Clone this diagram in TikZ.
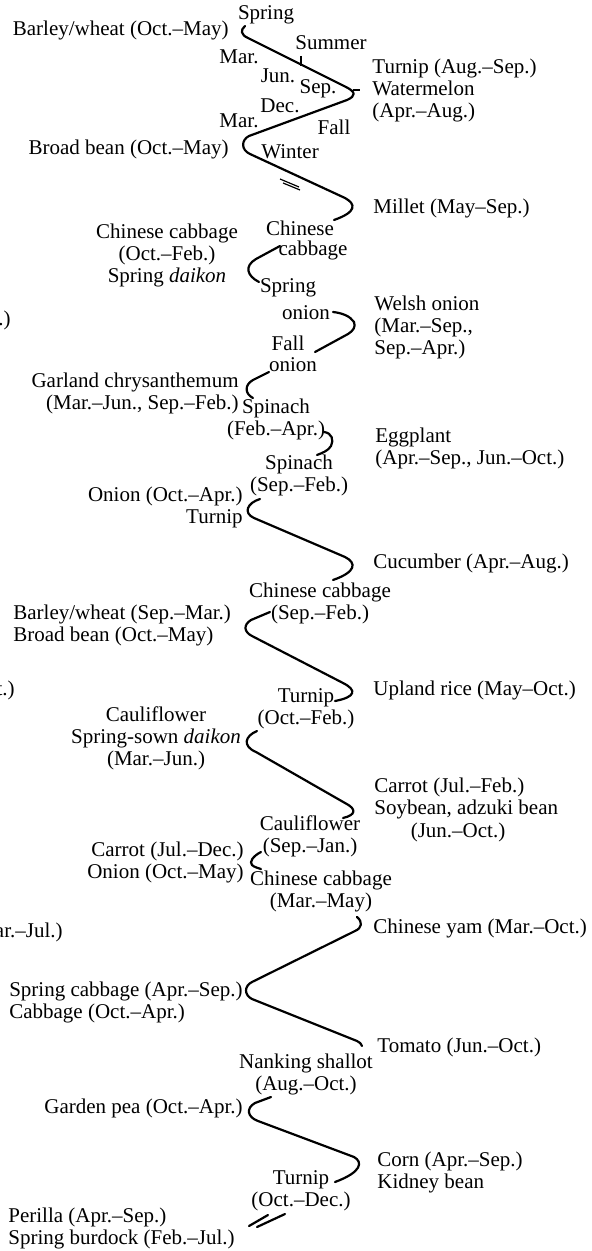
\documentclass[tikz,border=0pt]{standalone}
\usepackage{fontspec}
\setmainfont{Liberation Serif}
\newcommand\cropfont{\fontsize{10.5}{11}\selectfont}

\begin{document}
\begin{tikzpicture}[x=0.5pt,y=-0.5pt,
  lbl/.style={inner sep=0pt, font=\cropfont, align=center},
  lft/.style={lbl, anchor=east, align=right},
  rgt/.style={lbl, anchor=west, align=left},
  cropline/.style={line width=1.1pt, line cap=round, line join=round},
  tickline/.style={line width=0.6pt},
]
\useasboundingbox (0,0) rectangle (591,1251);

% seasons and months along the first turn
\node[lbl] (spring) at (266,15) {Spring};
\node[lbl] (summer) at (331,43) {Summer};
\node[lbl] (fall) at (334,127) {Fall};
\node[lbl] (winter) at (290,152) {Winter};
\node[lbl] (mar1) at (239,57) {Mar.};
\node[lbl] (jun) at (278,76) {Jun.};
\node[lbl] (sep) at (318,89) {Sep.};
\node[lbl] (dec) at (280,106) {Dec.};
\node[lbl] (mar2) at (239,121) {Mar.};

% left side crops
\node[lft] (barley1) at (229,30) {Barley/wheat (Oct.--May)};
\node[lft] (broad1) at (229,149) {Broad bean (Oct.--May)};
\node[lbl] (chcab1) at (167,255) {Chinese cabbage\\(Oct.--Feb.)\\Spring \emph{daikon}};
\node[lft] (garland) at (239,393) {Garland chrysanthemum\\(Mar.--Jun., Sep.--Feb.)};
\node[lft] (onion1) at (243,507) {Onion (Oct.--Apr.)\\Turnip};
\node[rgt] (barley2) at (13,625) {Barley/wheat (Sep.--Mar.)\\Broad bean (Oct.--May)};
\node[lbl] (cauli1) at (156,738) {Cauliflower\\Spring-sown \emph{daikon}\\(Mar.--Jun.)};
\node[lft] (carrot2) at (244,862) {Carrot (Jul.--Dec.)\\Onion (Oct.--May)};
\node[lbl, anchor=east, align=left] (sprcab) at (243,1002) {Spring cabbage (Apr.--Sep.)\\Cabbage (Oct.--Apr.)};
\node[lft] (gpea) at (243,1108) {Garden pea (Oct.--Apr.)};
\node[rgt] (perilla) at (8,1228) {Perilla (Apr.--Sep.)\\Spring burdock (Feb.--Jul.)};

% right side crops
\node[rgt] (turnip1) at (372,90) {Turnip (Aug.--Sep.)\\Watermelon\\(Apr.--Aug.)};
\node[rgt] (millet) at (373,208) {Millet (May--Sep.)};
\node[rgt] (welsh) at (374,327) {Welsh onion\\(Mar.--Sep.,\\Sep.--Apr.)};
\node[rgt] (eggpl) at (375,448) {Eggplant\\(Apr.--Sep., Jun.--Oct.)};
\node[rgt] (cucum) at (373,563) {Cucumber (Apr.--Aug.)};
\node[rgt] (upland) at (373,690) {Upland rice (May--Oct.)};
\node[rgt] (carrot1) at (374,798) {Carrot (Jul.--Feb.)\\Soybean, adzuki bean};
\node[lbl] (soyper) at (458,832) {(Jun.--Oct.)};
\node[rgt] (yam) at (373,928) {Chinese yam (Mar.--Oct.)};
\node[rgt] (tomato) at (377,1047) {Tomato (Jun.--Oct.)};
\node[rgt] (corn) at (377,1172) {Corn (Apr.--Sep.)\\Kidney bean};

% crops at the turning points
\node[lbl] (chin1) at (300,228) {Chinese};
\node[lbl] (cab1) at (313,250) {cabbage};
\node[lbl] (spron) at (288,288) {Spring};
\node[lbl] (spron2) at (306,313) {onion};
\node[lbl] (faon) at (288,343) {Fall};
\node[lbl] (faon2) at (293,365) {onion};
\node[lbl] (spin1) at (276,419) {Spinach\\(Feb.--Apr.)};
\node[lbl] (spin2) at (299,475) {Spinach\\(Sep.--Feb.)};
\node[lbl] (chcab2) at (320,603) {Chinese cabbage\\(Sep.--Feb.)};
\node[lbl] (turnip2) at (306,709) {Turnip\\(Oct.--Feb.)};
\node[lbl] (cauli2) at (310,836) {Cauliflower\\(Sep.--Jan.)};
\node[lbl] (chcab3) at (321,891) {Chinese cabbage\\(Mar.--May)};
\node[lbl] (nanking) at (306,1074) {Nanking shallot\\(Aug.--Oct.)};
\node[lbl] (turnip3) at (301,1191) {Turnip\\(Oct.--Dec.)};

% cut off at the left edge
\node[lft] (frag1) at (11,320) {.)};
\node[lft] (frag2) at (15,690) {t.)};
\node[lft] (frag3) at (63,932) {ar.--Jul.)};

% the rotation line
\draw[cropline] (245,26) .. controls (240,30) and (241,35) .. (248,38) -- (346,87)
  .. controls (356,92) and (356,96) .. (347,100) -- (249,136)
  .. controls (241,140) and (241,150) .. (250,154) -- (345,198)
  .. controls (356,204) and (357,212) .. (334,220);
\draw[cropline] (280,246) -- (256,259) .. controls (244,266) and (247,276) .. (259,282);
\draw[cropline] (333,312) .. controls (342,313) and (350,316) .. (354,322)
  .. controls (356,327) and (353,331) .. (348,334) -- (315,352);
\draw[cropline] (269,372) -- (253,380) .. controls (244,385) and (245,394) .. (253,398);
\draw[cropline] (324,432) .. controls (332,433) and (334,440) .. (331,446)
  .. controls (328,451) and (322,453) .. (317,455);
\draw[cropline] (260,499) .. controls (247,503) and (243,513) .. (254,518) -- (345,557)
  .. controls (357,563) and (356,572) .. (333,580);
\draw[cropline] (270,612) -- (251,620) .. controls (243,625) and (244,632) .. (252,636) -- (343,683)
  .. controls (357,690) and (356,697) .. (335,701);
\draw[cropline] (257,731) .. controls (245,736) and (242,746) .. (256,752) -- (345,803)
  .. controls (357,809) and (356,815) .. (343,818);
\draw[cropline] (261,852) .. controls (253,856) and (249,862) .. (252,865)
  .. controls (254,867) and (258,868) .. (261,869);
\draw[cropline] (357,917) .. controls (363,922) and (362,928) .. (355,931) -- (252,982)
  .. controls (244,986) and (244,995) .. (252,999) -- (357,1041)
  .. controls (360,1042) and (361,1044) .. (362,1046);
\draw[cropline] (271,1097) -- (255,1103) .. controls (246,1108) and (247,1117) .. (258,1121) -- (354,1157)
  .. controls (363,1162) and (362,1172) .. (335,1182);

% small marks
\draw[tickline] (301,56) -- (301,66);
\draw[tickline] (353,90) -- (360,90);
\draw[tickline] (280,179) -- (299,187);
\draw[tickline] (283,183) -- (300,190);
\draw[cropline] (249,1226) -- (268,1215);
\draw[cropline] (257,1227) -- (285,1214);
\end{tikzpicture}
\end{document}
